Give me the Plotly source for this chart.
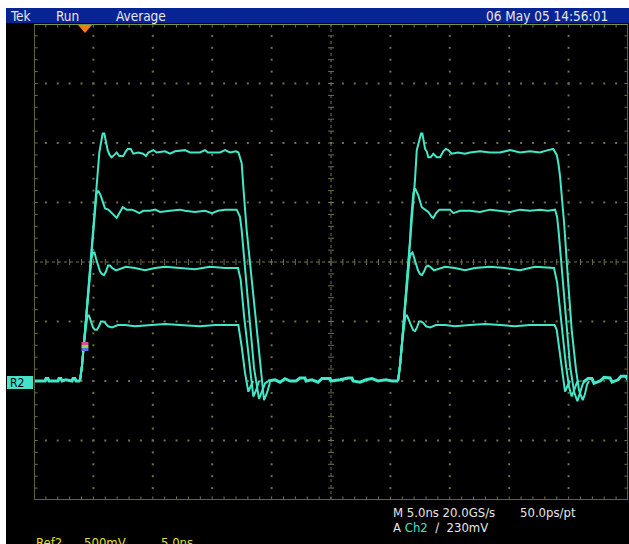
import numpy as np
import plotly.graph_objects as go

# ---------------- acquisition / display settings ----------------
NS_PER_DIV = 5.0          # horizontal scale
V_PER_DIV = 0.5           # Ref2 vertical scale
N_HDIV, N_VDIV = 10, 8
T_MIN, T_MAX = 0.0, 50.0  # ns across the screen
V_MIN, V_MAX = -1.0, 3.0  # volts (ground two divisions below centre)
TRIGGER_T = 4.29          # trigger position (ns)
TRIGGER_MARK_V = 0.29     # where the trigger crossing is flagged on the edge

# ---------------- waveform data (ns, V) ----------------
# shared ground baseline between pulses
base_a_t = [0.00, 0.93, 1.01, 1.18, 1.26, 2.02, 2.10, 2.27, 2.36, 2.69, 3.20, 3.28, 3.45, 3.54, 3.87]
base_a_v = [0.00, 0.00, 0.02, 0.02, 0.00, 0.00, 0.02, 0.02, 0.00, 0.01, 0.00, 0.02, 0.02, 0.00, 0.00]
base_b_t = [19.70, 20.29, 20.71, 21.13, 21.55, 22.06, 22.39, 22.81, 22.90, 23.40, 23.91, 24.24, 24.92,
            25.00, 25.76, 26.43, 26.77, 26.85, 27.44, 27.95, 28.45, 28.96, 29.63, 30.14, 30.64]
base_b_v = [0.00, 0.01, -0.01, 0.02, 0.00, 0.00, 0.025, 0.025, 0.00, 0.01, -0.01, 0.02, 0.02,
            0.00, 0.01, 0.025, 0.025, 0.00, -0.01, 0.01, 0.02, 0.00, 0.01, 0.00, 0.00]
base_c_t = [46.21, 46.64, 46.97, 47.14, 47.65, 47.98, 48.49, 48.66, 49.16, 49.41, 49.83, 50.00]
base_c_v = [-0.01, 0.02, 0.02, -0.02, 0.00, 0.03, 0.025, -0.01, 0.01, 0.04, 0.04, 0.01]

# level 1 (about 1.92 V)
p1_l1_t = [3.87, 4.04, 4.21, 4.38, 4.55, 4.71, 4.88, 5.05, 5.22, 5.39, 5.50, 5.60, 5.70, 5.78, 5.92,
           6.06, 6.20, 6.36, 6.54, 6.76, 6.96, 7.18, 7.52, 7.74, 7.89, 8.14, 8.36, 8.78, 9.18, 9.43,
           9.62, 10.04, 10.33, 11.03, 11.45, 11.87, 12.71, 13.13, 13.97, 14.39, 14.65, 15.66, 16.08,
           16.50, 17.00, 17.21, 17.48, 17.62, 17.90, 18.33, 18.69, 19.02, 19.36, 19.61, 19.87]
p1_l1_v = [0.00, 0.13, 0.32, 0.53, 0.74, 0.95, 1.16, 1.37, 1.59, 1.81, 1.92, 1.98, 2.03, 2.08, 2.08,
           2.02, 1.94, 1.90, 1.88, 1.90, 1.92, 1.89, 1.89, 1.93, 1.95, 1.95, 1.91, 1.92, 1.91, 1.89,
           1.92, 1.94, 1.92, 1.93, 1.91, 1.93, 1.94, 1.92, 1.92, 1.94, 1.92, 1.92, 1.94,
           1.92, 1.93, 1.92, 1.83, 1.63, 1.27, 0.85, 0.49, 0.14, -0.16, -0.10, -0.01]
p2_l1_t = [30.64, 30.81, 30.98, 31.15, 31.32, 31.48, 31.65, 31.82, 31.99, 32.07, 32.22, 32.35, 32.49,
           32.58, 32.69, 32.77, 32.92, 33.06, 33.19, 33.39, 33.61, 33.90, 34.18, 34.45, 34.66, 34.88,
           35.16, 35.69, 36.28, 36.70, 37.54, 38.39, 39.23, 40.07, 40.91, 41.75, 42.59, 43.27, 43.71,
           44.00, 44.14, 44.28, 44.42, 44.62, 44.95, 45.26, 45.63, 45.88, 46.19, 46.38, 46.55, 46.72]
p2_l1_v = [0.00, 0.13, 0.32, 0.53, 0.74, 0.95, 1.16, 1.37, 1.59, 1.69, 1.94, 2.00, 2.05,
           2.08, 2.08, 2.02, 1.95, 1.93, 1.88, 1.88, 1.91, 1.88, 1.88, 1.93, 1.95, 1.94,
           1.91, 1.92, 1.91, 1.92, 1.93, 1.92, 1.92, 1.94, 1.92, 1.93, 1.92, 1.94, 1.95,
           1.90, 1.83, 1.72, 1.55, 1.33, 0.85, 0.43, 0.09, -0.08, -0.16, -0.11, -0.03, 0.00]

# level 2 (about 1.43 V)
p1_l2_t = [3.87, 4.04, 4.21, 4.38, 4.55, 4.71, 4.88, 4.99, 5.13, 5.26, 5.41, 5.61, 5.78, 5.98, 6.25,
           6.54, 6.82, 6.96, 7.18, 7.47, 7.80, 8.22, 8.50, 8.86, 9.20, 9.77, 10.19, 10.61, 11.45, 12.29,
           12.71, 13.55, 14.39, 14.98, 15.49, 16.08, 16.67, 17.06, 17.34, 17.48, 17.85, 18.18, 18.52,
           18.94, 19.19, 19.45, 19.70]
p1_l2_v = [0.00, 0.13, 0.32, 0.53, 0.75, 0.96, 1.17, 1.31, 1.48, 1.57, 1.60, 1.56, 1.51, 1.45, 1.44,
           1.41, 1.38, 1.37, 1.41, 1.46, 1.44, 1.44, 1.43, 1.41, 1.43, 1.43, 1.44, 1.42, 1.43, 1.44,
           1.43, 1.42, 1.43, 1.41, 1.43, 1.44, 1.44, 1.44, 1.38, 1.27, 0.85, 0.47, 0.11,
           -0.15, -0.09, -0.02, 0.00]
p2_l2_t = [30.64, 30.81, 30.98, 31.15, 31.32, 31.48, 31.65, 31.74, 31.85, 31.93, 32.07, 32.22, 32.35,
           32.49, 32.64, 32.92, 33.19, 33.48, 33.61, 33.84, 34.12, 34.74, 35.02, 35.30, 35.86, 36.70,
           37.54, 38.39, 39.23, 40.07, 40.91, 41.75, 42.59, 43.27, 43.86, 44.03, 44.15, 44.49, 44.84,
           45.12, 45.46, 45.74, 45.96, 46.21, 46.38]
p2_l2_v = [0.00, 0.13, 0.32, 0.53, 0.74, 0.95, 1.18, 1.35, 1.48, 1.58, 1.62, 1.59, 1.56,
           1.51, 1.46, 1.44, 1.42, 1.38, 1.37, 1.41, 1.44, 1.44, 1.44, 1.41, 1.43, 1.43,
           1.42, 1.44, 1.43, 1.42, 1.44, 1.43, 1.44, 1.43, 1.44, 1.38, 1.27, 0.85, 0.43,
           0.13, -0.09, -0.17, -0.10, -0.02, 0.00]

# level 3 (about 0.95 V)
p1_l3_t = [3.87, 4.04, 4.21, 4.38, 4.55, 4.71, 4.84, 4.97, 5.09, 5.22, 5.39, 5.56, 5.72, 5.89, 6.06,
           6.23, 6.40, 6.57, 6.90, 7.24, 7.74, 8.50, 9.34, 10.19, 11.03, 12.29, 13.55, 14.82, 16.08,
           17.17, 17.40, 17.68, 18.01, 18.27, 18.46, 18.69, 18.94]
p1_l3_v = [0.00, 0.13, 0.32, 0.53, 0.74, 0.93, 1.03, 1.08, 1.08, 1.03, 0.97, 0.92, 0.90, 0.89, 0.92,
           0.97, 0.97, 0.95, 0.93, 0.94, 0.96, 0.95, 0.93, 0.95, 0.96, 0.95, 0.94, 0.96, 0.95,
           0.95, 0.85, 0.55, 0.24, 0.01, -0.13, -0.08, 0.00]
p2_l3_t = [30.64, 30.81, 30.98, 31.15, 31.32, 31.48, 31.61, 31.74, 31.86, 31.99, 32.16, 32.32, 32.49,
           32.66, 32.83, 33.00, 33.17, 33.34, 33.67, 34.01, 34.60, 35.44, 36.28, 37.12, 38.39, 39.65,
           40.91, 42.17, 43.27, 43.77, 44.03, 44.28, 44.53, 44.78, 45.04, 45.26, 45.46, 45.71, 45.88]
p2_l3_v = [0.00, 0.13, 0.32, 0.53, 0.74, 0.93, 1.03, 1.07, 1.08, 1.04, 0.98, 0.93, 0.90,
           0.89, 0.92, 0.96, 0.97, 0.96, 0.93, 0.94, 0.96, 0.95, 0.93, 0.95, 0.96, 0.95,
           0.93, 0.96, 0.95, 0.95, 0.83, 0.60, 0.34, 0.13, -0.05, -0.13, -0.08, -0.01, 0.00]

# level 4 (about 0.47 V)
p1_l4_t = [3.87, 4.04, 4.21, 4.38, 4.50, 4.63, 4.80, 4.97, 5.13, 5.30, 5.47, 5.64, 5.81, 5.98, 6.23,
           6.57, 7.07, 7.66, 8.50, 9.77, 11.03, 12.29, 13.97, 15.24, 16.50, 17.20, 17.48, 17.76, 18.04,
           18.24, 18.44]
p1_l4_v = [0.00, 0.13, 0.32, 0.48, 0.55, 0.55, 0.50, 0.45, 0.43, 0.43, 0.46, 0.50, 0.50, 0.49, 0.46,
           0.45, 0.47, 0.47, 0.46, 0.47, 0.48, 0.47, 0.46, 0.47, 0.47, 0.47, 0.29, 0.07, -0.09,
           -0.05, 0.00]
p2_l4_t = [30.64, 30.81, 30.98, 31.15, 31.27, 31.40, 31.57, 31.74, 31.90, 32.07, 32.24, 32.41, 32.58,
           32.75, 33.00, 33.34, 33.84, 34.60, 35.44, 36.70, 37.97, 39.23, 40.49, 41.75, 43.02, 43.82,
           44.00, 44.19, 44.45, 44.70, 44.91, 45.12]
p2_l4_v = [0.00, 0.13, 0.32, 0.48, 0.55, 0.55, 0.51, 0.46, 0.43, 0.42, 0.45, 0.50, 0.50,
           0.49, 0.46, 0.45, 0.47, 0.47, 0.46, 0.47, 0.48, 0.47, 0.46, 0.47, 0.47, 0.47,
           0.43, 0.30, 0.08, -0.09, -0.04, 0.00]

levels = [
    (p1_l1_t, p1_l1_v, p2_l1_t, p2_l1_v),
    (p1_l2_t, p1_l2_v, p2_l2_t, p2_l2_v),
    (p1_l3_t, p1_l3_v, p2_l3_t, p2_l3_v),
    (p1_l4_t, p1_l4_v, p2_l4_t, p2_l4_v),
]

# ---------------- styling ----------------
W, H = 629, 544
ML, MT, MR, MB = 34, 24, 1, 44
PW, PH = W - ML - MR, H - MT - MB

TRACE_COLOR = "#42e8c8"
GRID_COLOR = "#70704a"
BORDER_COLOR = "#5f6434"
TOP_BORDER_COLOR = "#76983a"
BAR_BLUE = "#062494"
FONT = "Liberation Sans Narrow, DejaVu Sans Condensed, Arial Narrow, sans-serif"


def px(x):
    """screen pixel column -> paper x"""
    return (x - ML) / PW


def py(y):
    """screen pixel row -> paper y"""
    return (H - MB - y) / PH


t_per_px = (T_MAX - T_MIN) / PW
v_per_px = (V_MAX - V_MIN) / PH

fig = go.Figure()

# ---- graticule: dotted major lines (dots every fifth of a division) ----
minor_t = np.arange(T_MIN, T_MAX + 1e-9, NS_PER_DIV / 5)
minor_v = np.arange(V_MIN, V_MAX + 1e-9, V_PER_DIV / 5)
t_mid = (T_MIN + T_MAX) / 2
v_mid = (V_MIN + V_MAX) / 2
major_t = [T_MIN + k * NS_PER_DIV for k in range(1, N_HDIV) if k != N_HDIV // 2]
major_v = [V_MIN + j * V_PER_DIV for j in range(1, N_VDIV) if j != N_VDIV // 2]

dx, dy = [], []
for t in major_t:
    dx += [t] * len(minor_v)
    dy += list(minor_v)
for v in major_v:
    dx += list(minor_t)
    dy += [v] * len(minor_t)
fig.add_trace(go.Scatter(x=dx, y=dy, mode="markers",
                         marker=dict(symbol="square", size=2, color=GRID_COLOR, line=dict(width=0)),
                         hoverinfo="skip"))

# centre cross: faint dotted lines
fig.add_trace(go.Scatter(x=[t_mid, t_mid, None, T_MIN, T_MAX], y=[V_MIN, V_MAX, None, v_mid, v_mid],
                         mode="lines", line=dict(color=GRID_COLOR, width=1, dash="dot"),
                         hoverinfo="skip"))

# tick marks on the centre cross and along the frame
tick_x, tick_y = [], []
half_h = 3 * t_per_px
half_v = 3 * v_per_px
for v in minor_v:
    tick_x += [t_mid - half_h, t_mid + half_h, None]
    tick_y += [v, v, None]
    tick_x += [T_MIN, T_MIN + 1.2 * half_h, None, T_MAX - 1.2 * half_h, T_MAX, None]
    tick_y += [v, v, None, v, v, None]
for t in minor_t:
    tick_x += [t, t, None]
    tick_y += [v_mid - half_v, v_mid + half_v, None]
    tick_x += [t, t, None, t, t, None]
    tick_y += [V_MIN, V_MIN + 1.2 * half_v, None, V_MAX - 1.2 * half_v, V_MAX, None]
fig.add_trace(go.Scatter(x=tick_x, y=tick_y, mode="lines",
                         line=dict(color=GRID_COLOR, width=1), hoverinfo="skip"))

# ---- ground baseline shared by all four references ----
bx = base_a_t + [None] + base_b_t + [None] + base_c_t
by = base_a_v + [None] + base_b_v + [None] + base_c_v
fig.add_trace(go.Scatter(x=bx, y=by, mode="lines",
                         line=dict(color=TRACE_COLOR, width=3), hoverinfo="skip"))

# ---- the four averaged pulse waveforms ----
for t1, v1, t2, v2 in levels:
    fig.add_trace(go.Scatter(x=t1 + [None] + t2, y=v1 + [None] + v2, mode="lines",
                             line=dict(color=TRACE_COLOR, width=2), hoverinfo="skip"))

shapes = []
# white border of the screenshot
shapes.append(dict(type="rect", xref="paper", yref="paper", x0=px(0), x1=px(6), y0=py(H), y1=py(0),
                   fillcolor="white", line=dict(width=0), layer="above"))
shapes.append(dict(type="rect", xref="paper", yref="paper", x0=px(0), x1=px(W), y0=py(8), y1=py(0),
                   fillcolor="white", line=dict(width=0), layer="above"))
# blue status bar
shapes.append(dict(type="rect", xref="paper", yref="paper", x0=px(6), x1=px(W), y0=py(23), y1=py(8),
                   fillcolor=BAR_BLUE, line=dict(width=0), layer="above"))
# graticule frame
shapes.append(dict(type="rect", xref="x", yref="y", x0=T_MIN, x1=T_MAX, y0=V_MIN, y1=V_MAX,
                   line=dict(color=BORDER_COLOR, width=2), layer="above"))
shapes.append(dict(type="line", xref="x", yref="y", x0=T_MIN, x1=T_MAX, y0=V_MAX, y1=V_MAX,
                   line=dict(color=TOP_BORDER_COLOR, width=2), layer="above"))
# trigger position marker (orange, pointing down)
tri_w = 7 * t_per_px
tri_top = V_MAX - 1 * v_per_px
tri_bot = V_MAX - 9 * v_per_px
shapes.append(dict(type="path", xref="x", yref="y",
                   path=f"M {TRIGGER_T - tri_w},{tri_top} L {TRIGGER_T + tri_w},{tri_top} "
                        f"L {TRIGGER_T},{tri_bot} Z",
                   fillcolor="#f47a14", line=dict(width=0), layer="above"))
# small multi-coloured flag where the trigger crosses the rising edge
flag_w = 3.5 * t_per_px
for i, c in enumerate(["#d8508c", "#7ce05a", "#5a6cf0"]):
    top = TRIGGER_MARK_V + (4.5 - 3 * i) * v_per_px
    shapes.append(dict(type="rect", xref="x", yref="y",
                       x0=TRIGGER_T - flag_w, x1=TRIGGER_T + flag_w, y0=top - 3 * v_per_px, y1=top,
                       fillcolor=c, line=dict(width=0), layer="above"))
# Ref2 ground indicator on the left edge
shapes.append(dict(type="rect", xref="paper", yref="paper", x0=px(7), x1=px(33), y0=py(389), y1=py(376),
                   fillcolor="#44e2c8", line=dict(width=0), layer="above"))

annotations = []


def label(text, x, y, color="#e6e6e6", size=13, anchor="left"):
    annotations.append(dict(text=text, xref="paper", yref="paper", x=px(x), y=py(y),
                            xanchor=anchor, yanchor="middle", showarrow=False,
                            font=dict(family=FONT, size=size, color=color)))


label("Tek", 8, 15.5, size=13.5)
label("Run", 54, 15.5, size=13.5)
label("Average", 114, 15.5, size=13.5)
label("06 May 05 14:56:01", 484, 15.5, size=13.5)
label("R2", 8, 382.5, color="#000000", size=12)
label("M 5.0ns 20.0GS/s", 391, 512.5)
label("50.0ps/pt", 518, 512.5)
label("A <span style='color:#44e2c8'>Ch2</span>  \u2215  230mV", 391, 527.5)
label("Ref2", 34, 542, color="#e2e224")
label("500mV", 82, 542, color="#e2e224")
label("5.0ns", 159, 542, color="#e2e224")

axis = dict(showgrid=False, zeroline=False, showticklabels=False, ticks="", showline=False,
            fixedrange=True)
fig.update_layout(
    width=W, height=H, autosize=False,
    margin=dict(l=ML, r=MR, t=MT, b=MB, pad=0),
    paper_bgcolor="black", plot_bgcolor="black",
    showlegend=False,
    xaxis=dict(range=[T_MIN, T_MAX], **axis),
    yaxis=dict(range=[V_MIN, V_MAX], **axis),
    shapes=shapes, annotations=annotations,
)

fig.write_html("out.html", config={"displayModeBar": False})
